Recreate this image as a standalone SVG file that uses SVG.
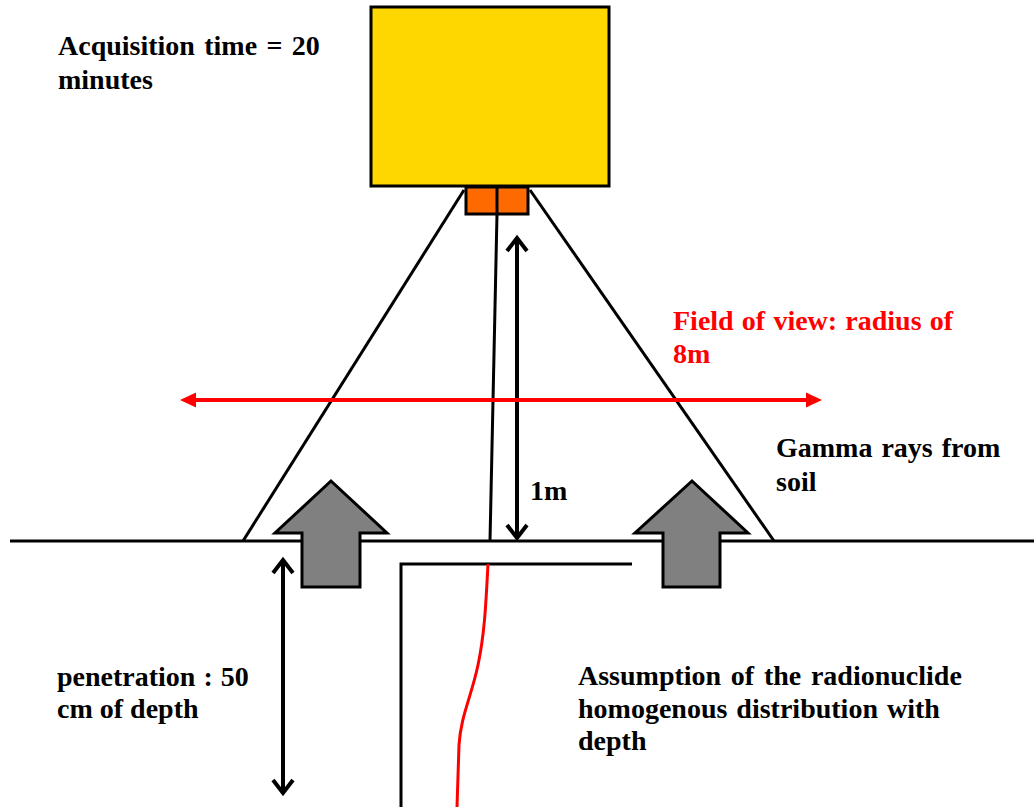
<svg xmlns="http://www.w3.org/2000/svg" width="1034" height="807" viewBox="0 0 1034 807">
<style>
.t{font-family:"Liberation Serif","Times New Roman",serif;font-weight:bold;font-size:28px;fill:#000}
.r{fill:#ff0000}
.ln{stroke:#000;stroke-width:3;fill:none}
.dim{stroke:#000;stroke-width:4;fill:none}
.gr{fill:#808080;stroke:#000;stroke-width:3;stroke-linejoin:miter}
</style>
<defs>
<marker id="chev" markerUnits="userSpaceOnUse" markerWidth="30" markerHeight="30" viewBox="-15 -15 30 30" refX="0" refY="0" orient="auto-start-reverse">
<path d="M-13,-10 L0,0 L-13,10" fill="none" stroke="#000" stroke-width="4"/>
</marker>
<marker id="tri" markerUnits="userSpaceOnUse" markerWidth="20" markerHeight="20" viewBox="0 -10 20 20" refX="0" refY="0" orient="auto-start-reverse">
<path d="M0,-7.5 L16,0 L0,7.5 Z" fill="#ff0000"/>
</marker>
</defs>
<rect width="1034" height="807" fill="#fff"/>
<g id="connectors">
<line class="ln" x1="10" y1="541" x2="1034" y2="541"/>
<line class="ln" x1="464" y1="190" x2="243" y2="541"/>
<line class="ln" x1="530" y1="190" x2="774" y2="541"/>
<line class="ln" x1="497" y1="214" x2="490" y2="541"/>
<line class="dim" x1="517" y1="238" x2="517" y2="538" marker-start="url(#chev)" marker-end="url(#chev)"/>
<line class="dim" x1="283" y1="560" x2="283" y2="793" marker-start="url(#chev)" marker-end="url(#chev)"/>
<line x1="196" y1="400" x2="806" y2="400" stroke="#ff0000" stroke-width="4" marker-start="url(#tri)" marker-end="url(#tri)"/>
<path class="ln" d="M632,564 L401,564 L401,807"/>
<path d="M488,564 C486,600 485,632 478,665 C471,698 461,715 459,745 L457,807" fill="none" stroke="#ff0000" stroke-width="3"/>
</g>
<g id="detector">
<rect x="371" y="7" width="238" height="179" fill="#ffd700" stroke="#000" stroke-width="3"/>
<rect x="466" y="187" width="62" height="27" fill="#ff6a00" stroke="#000" stroke-width="3"/>
<line class="ln" x1="497" y1="187" x2="497" y2="214"/>
</g>
<g id="gamma-arrow-left">
<polygon class="gr" points="331,481 387,533 360,533 360,587 302,587 302,533 275,533"/>
</g>
<g id="gamma-arrow-right">
<polygon class="gr" points="692,481 748,533 720,533 720,587 663,587 663,533 635,533"/>
</g>
<g id="label-acquisition">
<text class="t" x="58" y="55" word-spacing="2.3">Acquisition time = 20</text>
<text class="t" x="58" y="89">minutes</text>
</g>
<g id="label-field">
<text class="t r" x="673" y="330" word-spacing="1.2">Field of view: radius of</text>
<text class="t r" x="673" y="363">8m</text>
</g>
<g id="label-gamma">
<text class="t" x="776" y="457" word-spacing="2">Gamma rays from</text>
<text class="t" x="776" y="491">soil</text>
</g>
<g id="label-1m">
<text class="t" x="530" y="500">1m</text>
</g>
<g id="label-penetration">
<text class="t" x="57" y="686" word-spacing="1">penetration : 50</text>
<text class="t" x="57" y="718">cm of depth</text>
</g>
<g id="label-assumption">
<text class="t" x="578" y="685" word-spacing="2.7">Assumption of the radionuclide</text>
<text class="t" x="578" y="718" word-spacing="2">homogenous distribution with</text>
<text class="t" x="578" y="750">depth</text>
</g>
</svg>
